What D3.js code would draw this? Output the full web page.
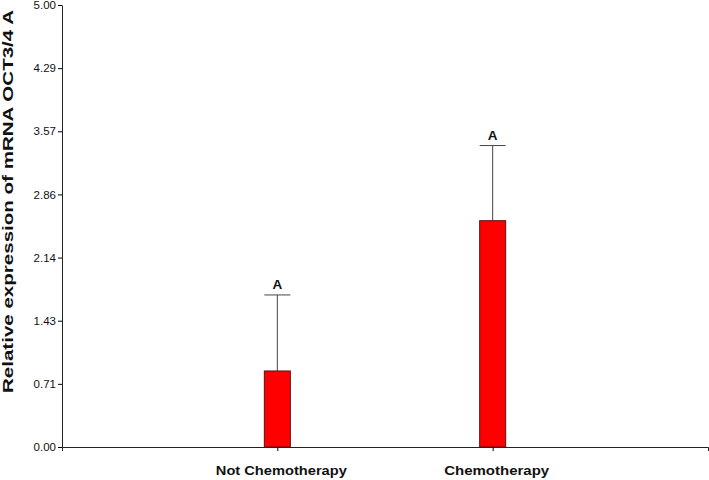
<!DOCTYPE html>
<html>
<head>
<meta charset="utf-8">
<script src="https://cdn.jsdelivr.net/npm/d3@7"></script>
<style>
  body { margin: 0; background: #fff; }
  text { font-family: "Liberation Sans", Arial, sans-serif; }
</style>
</head>
<body>
<div class="d3-canvas"></div>
<script>
const WIDTH = 709;
const HEIGHT = 480;

// Data
const categories = ['Not Chemotherapy', 'Chemotherapy'];
const means = [0.86, 2.56];
const errors = [0.86, 0.85];
const letters = ['A', 'A'];
const yTicks = [0, 0.71, 1.43, 2.14, 2.86, 3.57, 4.29, 5.00];
const yMax = 5;

const margin = {top: 5, right: 1, bottom: 33, left: 62};
const chartWidth = WIDTH - margin.left - margin.right;
const chartHeight = HEIGHT - margin.top - margin.bottom;

const svg = d3.select('.d3-canvas')
    .append('svg')
        .attr('width', WIDTH)
        .attr('height', HEIGHT);

const chart = svg.append('g')
    .attr('transform', `translate(${margin.left}, ${margin.top})`);

// Scales
const x = d3.scalePoint()
    .domain(categories)
    .range([0, chartWidth])
    .padding(1);
const y = d3.scaleLinear()
    .domain([0, yMax])
    .range([chartHeight, 0]);

const barWidth = 26;

// Axes
const yAxis = d3.axisLeft(y)
    .tickValues(yTicks.map((d, i) => i * yMax / (yTicks.length - 1)))
    .tickFormat((d, i) => yTicks[i].toFixed(2))
    .tickSize(4)
    .tickSizeOuter(0);
const xAxis = d3.axisBottom(x)
    .tickSize(4)
    .tickSizeOuter(4)
    .tickFormat('');

const yAxisGroup = chart.append('g').call(yAxis);
yAxisGroup.selectAll('text')
    .attr('font-size', 11.5)
    .attr('fill', '#111')
    .attr('font-family', '"Liberation Sans", Arial, sans-serif')
    .attr('x', -6);
yAxisGroup.select('.domain').attr('stroke', '#222');

const xAxisGroup = chart.append('g')
    .attr('transform', `translate(0, ${chartHeight})`)
    .call(xAxis);
xAxisGroup.select('.domain').attr('stroke', '#222');

// Category labels (slightly stretched, as in the original)
const labelLengths = [131, 105];
chart.selectAll('.cat-label')
    .data(categories)
    .enter()
    .append('text')
    .attr('class', 'cat-label')
    .attr('x', d => x(d) + 4)
    .attr('y', chartHeight + 28)
    .attr('text-anchor', 'middle')
    .attr('font-size', 13.5)
    .attr('font-weight', 'bold')
    .attr('fill', '#111')
    .attr('textLength', (d, i) => labelLengths[i])
    .attr('lengthAdjust', 'spacingAndGlyphs')
    .text(d => d);

// Error bars (drawn first so the bar covers the stem)
const errs = chart.selectAll('.err')
    .data(categories)
    .enter()
    .append('g')
    .attr('class', 'err')
    .attr('stroke', '#444')
    .attr('stroke-width', 1);
errs.append('line')
    .attr('x1', d => x(d))
    .attr('x2', d => x(d))
    .attr('y1', (d, i) => y(means[i]))
    .attr('y2', (d, i) => y(means[i] + errors[i]));
errs.append('line')
    .attr('x1', d => x(d) - barWidth / 2)
    .attr('x2', d => x(d) + barWidth / 2)
    .attr('y1', (d, i) => y(means[i] + errors[i]))
    .attr('y2', (d, i) => y(means[i] + errors[i]));

// Bars
chart.selectAll('.bar')
    .data(categories)
    .enter()
    .append('rect')
    .attr('class', 'bar')
    .attr('x', d => x(d) - barWidth / 2)
    .attr('width', barWidth)
    .attr('y', (d, i) => y(means[i]))
    .attr('height', (d, i) => chartHeight - y(means[i]))
    .attr('fill', '#ff0000')
    .attr('stroke', '#5a1010')
    .attr('stroke-width', 1);

// Significance letters
chart.selectAll('.letter')
    .data(categories)
    .enter()
    .append('text')
    .attr('class', 'letter')
    .attr('x', d => x(d))
    .attr('y', (d, i) => y(means[i] + errors[i]) - 6)
    .attr('text-anchor', 'middle')
    .attr('font-size', 13.5)
    .attr('font-weight', 'bold')
    .attr('fill', '#111')
    .text((d, i) => letters[i]);

// Y axis title (stretched along its length, as in the original)
svg.append('text')
    .attr('transform', `translate(13, 201.5) rotate(-90)`)
    .attr('text-anchor', 'middle')
    .attr('font-size', 15)
    .attr('font-weight', 'bold')
    .attr('fill', '#111')
    .attr('textLength', 383)
    .attr('lengthAdjust', 'spacingAndGlyphs')
    .text('Relative expression of mRNA OCT3/4 A');
</script>
</body>
</html>
